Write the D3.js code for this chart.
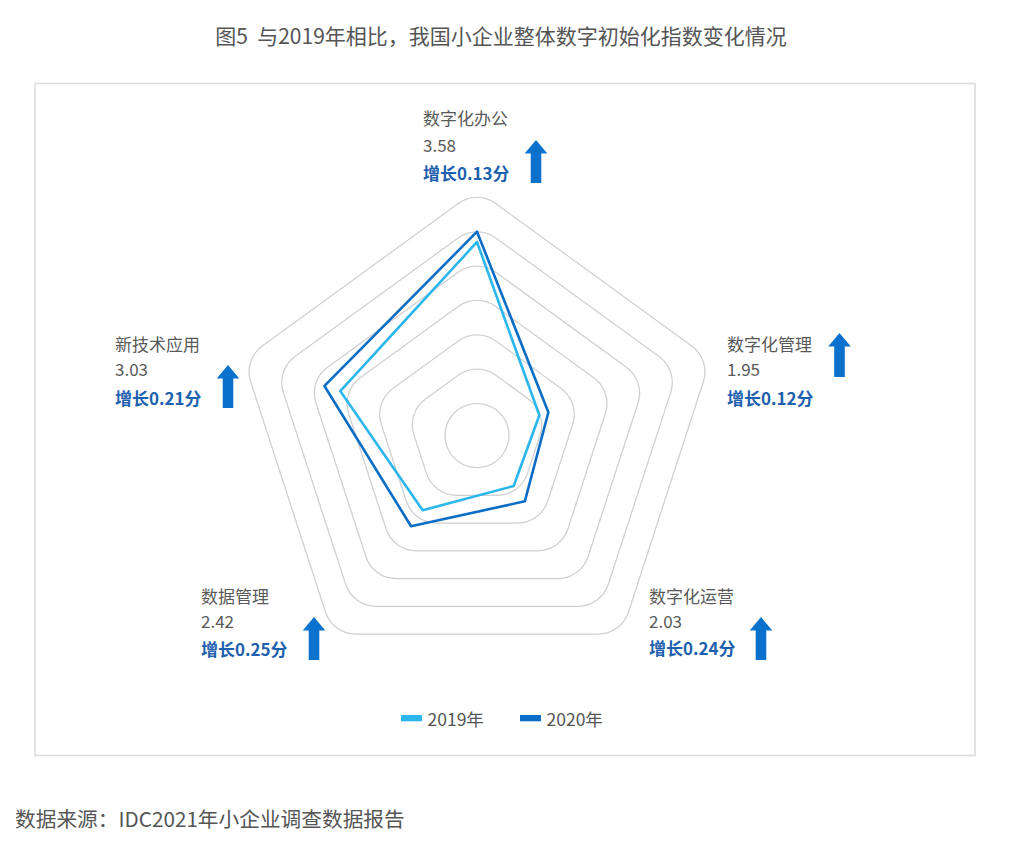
<!DOCTYPE html>
<html><head><meta charset="utf-8">
<script src="https://cdn.jsdelivr.net/npm/d3@7/dist/d3.min.js"></script>
<style>
html,body{margin:0;padding:0;background:#fff;}
text{font-family:"Noto Sans CJK SC","Noto Sans",sans-serif;white-space:pre;}
</style></head>
<body>
<svg id="chart" width="1014" height="850"></svg>
<script>
// ---- data ----
const categories = ["数字化办公", "数字化管理", "数字化运营", "数据管理", "新技术应用"];
const values2019 = [3.45, 1.83, 1.79, 2.17, 2.82];
const values2020 = [3.58, 1.95, 2.03, 2.42, 3.03];
const seriesNames = ["2019年", "2020年"];
const titleText = "图5\u00a0\u00a0与2019年相比，我国小企业整体数字初始化指数变化情况";
const sourceText = "数据来源：IDC2021年小企业调查数据报告";

// ---- layout ----
const cx = 477, cy = 435.5;
const colors = ["#2bb6ec", "#0a6dc6"];
const gridCount = 7;
const cornerR = 32;
// label layout per axis: text left x, three line center y's, arrow center x, arrow top, arrow bottom
const labelLayout = [
  {x: 423, y: [117, 144, 172], ax: 536, at: 140, ab: 183},
  {x: 727, y: [343, 368, 397], ax: 839.5, at: 333, ab: 377},
  {x: 649, y: [595, 620, 647], ax: 761, at: 617, ab: 660},
  {x: 201, y: [595, 620, 648], ax: 314, at: 617, ab: 660},
  {x: 115, y: [343, 368, 397], ax: 228, at: 365, ab: 408}
];

const svg = d3.select("#chart");

// frame
svg.append("rect").attr("x", 35).attr("y", 83.5).attr("width", 940).attr("height", 672)
  .attr("fill", "none").attr("stroke", "#dcdcdc").attr("stroke-width", 1.6);

// title
svg.append("text").attr("x", 501).attr("y", 35).attr("text-anchor", "middle")
  .attr("dominant-baseline", "central").attr("font-size", 21).attr("fill", "#555")
  .text(titleText);

// scales
const n = categories.length;
const angle = d3.scaleLinear().domain([0, n]).range([-Math.PI / 2, 1.5 * Math.PI]);
const rScale = d3.scaleLinear().domain([1, 4]).range([0, 237]);
const ringScale = d3.scaleLinear().domain([1, gridCount]).range([32, 238]);

const g = svg.append("g").attr("transform", `translate(${cx},${cy})`);

// grid: rounded pentagons (offset pentagon by cornerR)
d3.range(1, gridCount + 1).forEach(k => {
  const R = ringScale(k);
  const Rp = Math.max(0, R - cornerR);
  const p = d3.path();
  for (let i = 0; i < n; i++) {
    const a = angle(i);
    const vx = Rp * Math.cos(a), vy = Rp * Math.sin(a);
    p.arc(vx, vy, cornerR, a - Math.PI / n, a + Math.PI / n, false);
  }
  p.closePath();
  g.append("path").attr("d", p.toString()).attr("fill", "none")
    .attr("stroke", "#cfcfcf").attr("stroke-width", 1.25);
});

// series
const line = d3.lineRadial().angle((d, i) => angle(i) + Math.PI / 2).radius(d => rScale(d))
  .curve(d3.curveLinearClosed);
[values2019, values2020].forEach((vals, si) => {
  g.append("path").attr("d", line(vals)).attr("fill", "none")
    .attr("stroke", colors[si]).attr("stroke-width", 2.6).attr("stroke-linejoin", "round");
});

// labels
categories.forEach((c, i) => {
  const L = labelLayout[i];
  const growth = (values2020[i] - values2019[i]).toFixed(2);
  svg.append("text").attr("x", L.x).attr("y", L.y[0]).attr("dominant-baseline", "central")
    .attr("font-size", 17).attr("fill", "#595959").text(c);
  svg.append("text").attr("x", L.x).attr("y", L.y[1]).attr("dominant-baseline", "central")
    .attr("font-size", 17).attr("fill", "#595959").text(values2020[i].toFixed(2));
  svg.append("text").attr("x", L.x).attr("y", L.y[2]).attr("dominant-baseline", "central")
    .attr("font-size", 17).attr("font-weight", "bold").attr("fill", "#1e5fae")
    .text("增长" + growth + "分");
  // arrow
  const hw = 11.3, sw = 5.3, hh = 13.5;
  const ax = L.ax, at = L.at, ab = L.ab;
  const pts = [[ax, at], [ax + hw, at + hh], [ax + sw, at + hh], [ax + sw, ab],
               [ax - sw, ab], [ax - sw, at + hh], [ax - hw, at + hh]];
  svg.append("path").attr("d", "M" + pts.map(p => p.join(",")).join("L") + "Z")
    .attr("fill", "#0a72cc");
});

// legend
const legendX = [401, 520];
seriesNames.forEach((s, i) => {
  svg.append("rect").attr("x", legendX[i]).attr("y", 715).attr("width", 21).attr("height", 6.3)
    .attr("fill", colors[i]);
  svg.append("text").attr("x", legendX[i] + 26.5).attr("y", 718).attr("dominant-baseline", "central")
    .attr("font-size", 17.5).attr("fill", "#555").text(s);
});

// source
svg.append("text").attr("x", 15).attr("y", 818).attr("dominant-baseline", "central")
  .attr("font-size", 20.7).attr("fill", "#555").text(sourceText);
</script>
</body></html>
